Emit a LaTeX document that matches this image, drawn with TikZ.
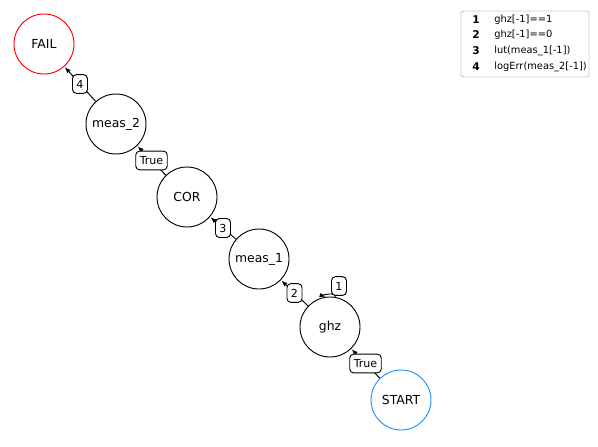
\documentclass[tikz,border=0pt]{standalone}
\usepackage{fontspec}
\setmainfont{DejaVu Sans}
\usetikzlibrary{arrows.meta}

\begin{document}
\begin{tikzpicture}
[x=0.75pt,y=-0.75pt,%
  stateDecorate/.style={shape=circle,minimum size=45pt,inner sep=0pt,draw,line width=0.7pt,font=\fontsize{9.3}{11}\selectfont},%
  edgeDecorate/.style={-{Latex[length=4.5pt,width=3.5pt]},line width=0.7pt,shorten >=0.5pt},%
  labelDecorate/.style={draw,fill=white,line width=0.7pt,rounded corners=3pt,inner xsep=3pt,inner ysep=4pt,font=\fontsize{8.3}{10}\selectfont},%
  legendDecorate/.style={anchor=west,inner sep=0pt,font=\fontsize{7.4}{9}\selectfont}]
\useasboundingbox (0,0) rectangle (598,446);
%%
%% states of the program
\foreach \nodename/\nodetext/\x/\y/\c in {
  fail/FAIL/44/44/red, meas2/meas\_2/116/124/black, cor/COR/187/197/black,
  meas1/meas\_1/259/259/black, ghz/ghz/330/327/black,
  start/START/401/400/{rgb,255:red,30;green,144;blue,255}}
{
  \node (\nodename) at (\x,\y) [stateDecorate,draw=\c] {\nodetext};
}
%% transitions
\path
\foreach \startnode/\endnode/\lab in {start/ghz/True, ghz/meas1/2, meas1/cor/3,
  cor/meas2/True, meas2/fail/4}
{
  (\startnode) edge[edgeDecorate] node[labelDecorate] {\lab} (\endnode)
};
\draw[edgeDecorate] (ghz.80) .. controls +(1,-6) and +(-4,-1) .. (ghz.97);
\node (loop1) at (339,286) [labelDecorate] {1};
%%
%% legend
\node (legend) at (525,44) [draw=black!20,line width=0.7pt,rounded corners=2pt,minimum width=96pt,minimum height=49.5pt] {};
\foreach \row/\cond/\y in {1/{ghz[-1]==1}/20, 2/{ghz[-1]==0}/35,
  3/{lut(meas\_1[-1])}/51, 4/{logErr(meas\_2[-1])}/67}
{
  \node (num\row) at (476,\y) [inner sep=0pt,font=\fontsize{8}{9}\selectfont\bfseries] {\row};
  \node (cond\row) at (494,\y) [legendDecorate] {\cond};
}
\end{tikzpicture}
\end{document}
